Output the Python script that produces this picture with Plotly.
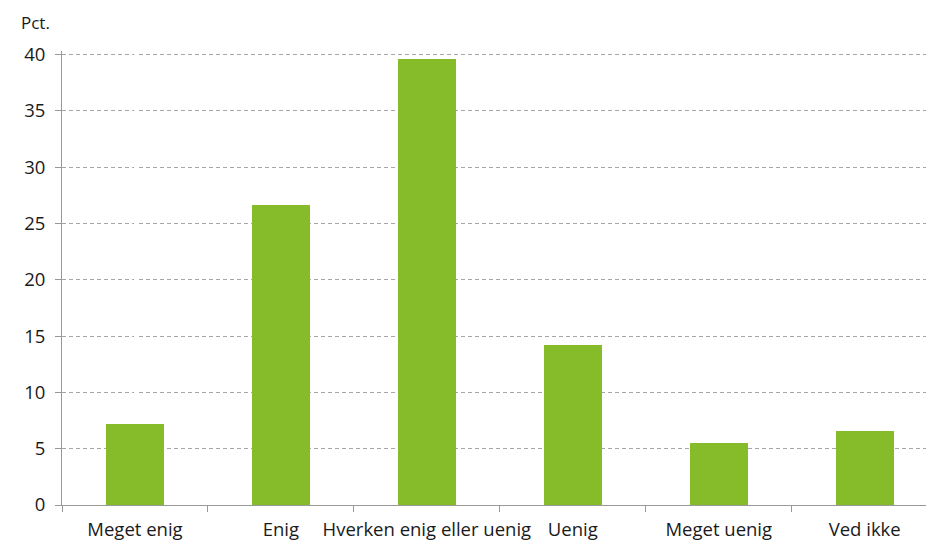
import plotly.graph_objects as go

categories = ["Meget enig", "Enig", "Hverken enig eller uenig", "Uenig", "Meget uenig", "Ved ikke"]
values = [7.2, 26.6, 39.6, 14.2, 5.5, 6.6]
y_ticks = [0, 5, 10, 15, 20, 25, 30, 35, 40]

fig = go.Figure(
    go.Bar(
        x=list(range(len(categories))),
        y=values,
        width=0.4,
        marker=dict(color="#86BC29", line=dict(width=0)),
    )
)

fig.update_layout(
    width=926,
    height=542,
    margin=dict(l=62, r=0, t=51, b=37),
    paper_bgcolor="white",
    plot_bgcolor="white",
    font=dict(family="Open Sans", size=18.5, color="#1a1a1a"),
    showlegend=False,
    bargap=0,
)

fig.update_xaxes(
    range=[-0.5, 5.42],
    tickmode="array",
    tickvals=list(range(len(categories))),
    ticktext=categories,
    showgrid=False,
    showline=True,
    linecolor="#999999",
    linewidth=1,
    ticks="",
    ticklabelstandoff=8,
    tickfont=dict(size=18.5),
    zeroline=False,
)
# tick marks between categories
fig.update_layout(
    xaxis2=dict(
        overlaying="x",
        range=[-0.5, 5.42],
        tickmode="array",
        tickvals=[i - 0.5 for i in range(len(categories))],
        ticktext=["" for _ in categories],
        ticks="outside",
        ticklen=6,
        tickcolor="#999999",
        showgrid=False,
        showline=False,
        side="bottom",
        anchor="y",
    )
)
fig.add_trace(go.Scatter(x=[], y=[], xaxis="x2", yaxis="y", showlegend=False))

fig.update_yaxes(
    range=[0, 40.3],
    tickmode="array",
    tickvals=y_ticks,
    showgrid=True,
    gridcolor="#a6a6a6",
    griddash="4px,3px",
    gridwidth=1,
    showline=True,
    linecolor="#999999",
    linewidth=1,
    ticks="outside",
    ticklen=6,
    tickcolor="#999999",
    ticklabelstandoff=6,
    zeroline=False,
    tickfont=dict(size=18.5),
)

fig.add_annotation(
    text="Pct.", xref="paper", yref="paper", x=0, y=1.0,
    xshift=-43, yshift=29, xanchor="left", yanchor="middle", showarrow=False,
    font=dict(size=17, family="Open Sans", color="#1a1a1a"),
)

fig.write_html(
    "out.html",
    config={"displayModeBar": False},
    post_script="document.body.style.margin='0';document.body.style.overflow='hidden';",
)
